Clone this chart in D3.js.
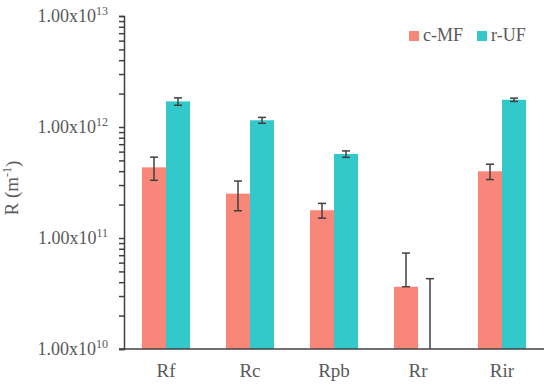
<!DOCTYPE html>
<html>
<head>
<meta charset="utf-8">
<script src="https://cdn.jsdelivr.net/npm/d3@7"></script>
<style>
  body { margin: 0; background: #fff; }
  svg { display: block; }
</style>
</head>
<body>
<div id="chart"></div>
<script>
// ---- Data ----
const categories = ["Rf", "Rc", "Rpb", "Rr", "Rir"];
const seriesNames = ["c-MF", "r-UF"];
const cmfValues = [4.33e11, 2.51e11, 1.78e11, 3.64e10, 3.99e11];
const cmfErrors = [1.02e11, 0.75e11, 0.27e11, 3.68e10, 0.63e11];
const rufValues = [1.70e12, 1.15e12, 5.71e11, 4.0e9, 1.76e12];
const rufErrors = [0.13e12, 0.07e12, 0.38e11, 3.9e10, 0.06e12];
const yTickDecades = [1e10, 1e11, 1e12, 1e13];

const colors = ["#F8877A", "#33C9CB"];
const textColor = "#595959";
const axisColor = "#404040";

// ---- Layout ----
const width = 550, height = 389;
const margin = { top: 16, right: 6, bottom: 40, left: 124 };

const svg = d3.select("#chart").append("svg")
  .attr("width", width)
  .attr("height", height);

const x = d3.scaleBand()
  .domain(categories)
  .range([margin.left, width - margin.right])
  .padding(0);

const y = d3.scaleLog()
  .domain([1e10, 1e13])
  .range([height - margin.bottom, margin.top])
  .clamp(true);

const barW = 24;
const series = [
  { name: seriesNames[0], values: cmfValues, errors: cmfErrors, color: colors[0], offset: -barW },
  { name: seriesNames[1], values: rufValues, errors: rufErrors, color: colors[1], offset: 0 }
];

// ---- Bars ----
for (const s of series) {
  svg.append("g")
    .selectAll("rect")
    .data(categories.map((c, i) => ({ c, v: s.values[i] })))
    .join("rect")
    .attr("x", d => x(d.c) + x.bandwidth() / 2 + s.offset)
    .attr("width", barW)
    .attr("y", d => y(d.v))
    .attr("height", d => y(1e10) - y(d.v))
    .attr("fill", s.color);
}

// ---- Error bars ----
const errG = svg.append("g").attr("stroke", axisColor).attr("stroke-width", 1.5);
for (const s of series) {
  categories.forEach((c, i) => {
    const v = s.values[i], e = s.errors[i];
    const cx = x(c) + x.bandwidth() / 2 + s.offset + barW / 2;
    const hi = v + e;
    const lo = v - e > 0 ? v - e : v;
    errG.append("line")
      .attr("x1", cx).attr("x2", cx)
      .attr("y1", y(hi)).attr("y2", y(lo));
    errG.append("line")
      .attr("x1", cx - 4).attr("x2", cx + 4)
      .attr("y1", y(hi)).attr("y2", y(hi));
    if (v >= 1e10) {
      errG.append("line")
        .attr("x1", cx - 4).attr("x2", cx + 4)
        .attr("y1", y(lo)).attr("y2", y(lo));
    }
  });
}

// ---- Y axis (log, minor ticks) ----
const allTicks = [];
for (let i = 0; i < yTickDecades.length - 1; i++) {
  for (let k = 1; k <= 9; k++) allTicks.push(yTickDecades[i] * k);
}
allTicks.push(yTickDecades[yTickDecades.length - 1]);

const yAxis = svg.append("g")
  .attr("transform", `translate(${margin.left},0)`)
  .call(d3.axisLeft(y).tickValues(allTicks).tickSize(5).tickFormat(() => ""));
yAxis.select(".domain").attr("stroke", axisColor).attr("stroke-width", 1.5);
yAxis.selectAll(".tick line").attr("stroke", axisColor).attr("stroke-width", 1.5);
yAxis.selectAll(".tick text").remove();

const yLabels = svg.append("g")
  .attr("font-family", "'Liberation Serif', 'Times New Roman', serif")
  .attr("fill", textColor);
for (const t of yTickDecades) {
  const txt = yLabels.append("text")
    .attr("x", 108)
    .attr("y", y(t))
    .attr("dy", "0.32em")
    .attr("text-anchor", "end")
    .attr("font-size", 18);
  txt.append("tspan").text("1.00x10");
  txt.append("tspan")
    .attr("font-size", 12)
    .attr("dy", "-0.55em")
    .text(String(Math.round(Math.log10(t))));
}

// ---- X axis ----
svg.append("line")
  .attr("x1", margin.left - 5).attr("x2", width - margin.right)
  .attr("y1", y(1e10)).attr("y2", y(1e10))
  .attr("stroke", axisColor).attr("stroke-width", 1.5);

svg.append("g")
  .attr("font-family", "'Liberation Serif', 'Times New Roman', serif")
  .attr("fill", textColor)
  .attr("font-size", 19)
  .selectAll("text")
  .data(categories)
  .join("text")
  .attr("x", d => x(d) + x.bandwidth() / 2)
  .attr("y", 377)
  .attr("text-anchor", "middle")
  .text(d => d);

// ---- Y title ----
const yTitle = svg.append("text")
  .attr("transform", `translate(18,188) rotate(-90)`)
  .attr("text-anchor", "middle")
  .attr("font-family", "'Liberation Serif', 'Times New Roman', serif")
  .attr("font-size", 19)
  .attr("fill", textColor);
yTitle.append("tspan").text("R (m");
yTitle.append("tspan").attr("font-size", 12).attr("dy", "-0.6em").text("-1");
yTitle.append("tspan").attr("dy", "0.45em").text(")");

// ---- Legend ----
const legend = svg.append("g")
  .attr("font-family", "'Liberation Serif', 'Times New Roman', serif")
  .attr("font-size", 18)
  .attr("fill", textColor);
const legendX = [409, 477];
series.forEach((s, i) => {
  legend.append("rect")
    .attr("x", legendX[i]).attr("y", 31)
    .attr("width", 10).attr("height", 10)
    .attr("fill", s.color);
  legend.append("text")
    .attr("x", legendX[i] + 14).attr("y", 41)
    .text(s.name);
});
</script>
</body>
</html>
